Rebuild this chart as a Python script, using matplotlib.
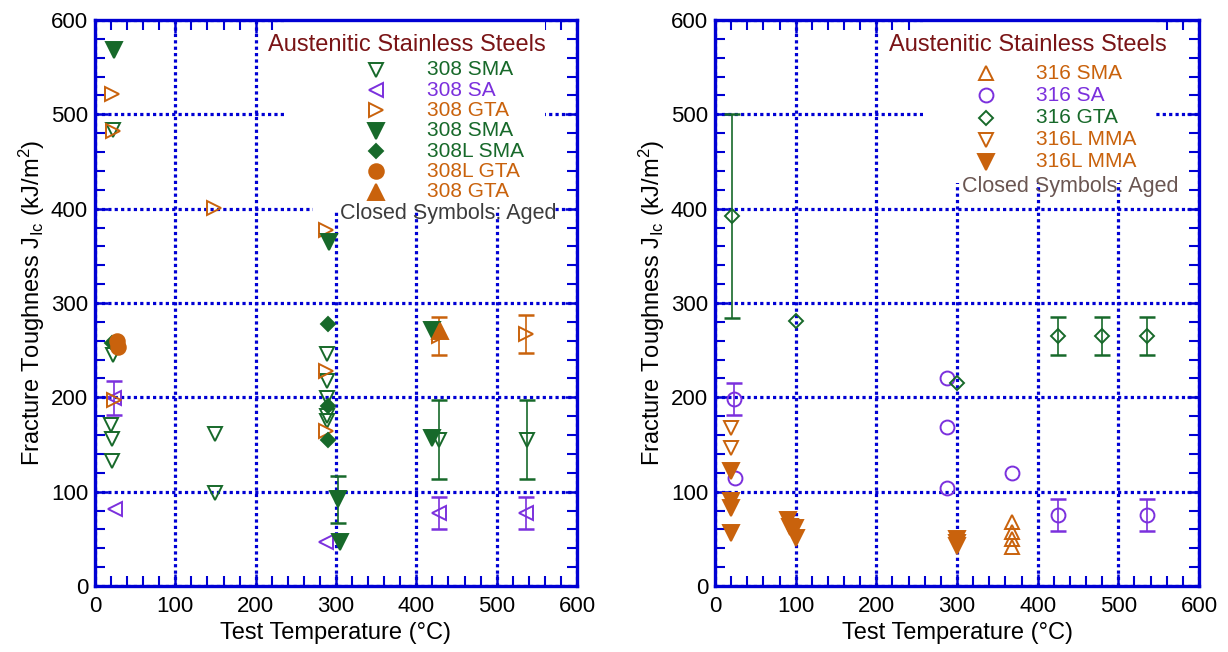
import numpy as np
import matplotlib
matplotlib.use('Agg')
import matplotlib.pyplot as plt
from matplotlib.ticker import MultipleLocator
from matplotlib.patches import Rectangle

plt.rcParams['font.family'] = ['Liberation Sans', 'DejaVu Sans']
plt.rcParams['mathtext.fontset'] = 'custom'
plt.rcParams['mathtext.rm'] = 'Liberation Sans'
plt.rcParams['mathtext.it'] = 'Liberation Sans:italic'

GREEN = '#17692a'
PURPLE = '#7b30dd'
ORANGE = '#c9620c'
BLUE = '#0000d4'

# ---- left panel: 308 welds ----
sma308_x = [22, 22, 20, 21, 21, 149, 149, 289, 289, 289, 289, 289, 428, 538]
sma308_y = [483, 245, 171, 156, 132, 161, 99, 246, 217, 199, 180, 175, 155, 155]
sma308_err = [0, 0, 0, 0, 0, 0, 0, 0, 0, 0, 0, 0, 42, 42]

sa308_x = [24, 25, 288, 428, 537]
sa308_y = [199, 82, 47, 77, 77]
sa308_err = [18, 0, 0, 17, 17]

gta308_x = [21, 23, 24, 148, 288, 288, 288, 428, 537]
gta308_y = [522, 482, 197, 401, 377, 228, 164, 265, 267]
gta308_err = [0, 0, 0, 0, 0, 0, 0, 20, 20]

sma308_aged_x = [24, 291, 303, 305, 419, 419]
sma308_aged_y = [568, 365, 92, 47, 157, 271]
sma308_aged_err = [0, 0, 25, 0, 0, 0]

sma308L_aged_x = [21, 290, 290, 290]
sma308L_aged_y = [258, 278, 191, 155]

gta308L_aged_x = [27, 29]
gta308L_aged_y = [260, 253]

gta308_aged_x = [430]
gta308_aged_y = [270]

# ---- right panel: 316 welds ----
sma316_x = [368, 368, 368, 368]
sma316_y = [68, 57, 50, 41]

sa316_x = [24, 25, 287, 287, 288, 368, 425, 536]
sa316_y = [198, 115, 220, 169, 104, 120, 75, 75]
sa316_err = [17, 0, 0, 0, 0, 0, 17, 17]

gta316_x = [21, 100, 300, 425, 480, 536]
gta316_y = [392, 281, 215, 265, 265, 265]
gta316_err = [108, 0, 0, 20, 20, 20]

mma316L_x = [20, 20]
mma316L_y = [167, 146]

mma316L_aged_x = [20, 20, 20, 20, 91, 93, 99, 100, 300, 300, 300]
mma316L_aged_y = [122, 90, 83, 56, 70, 63, 61, 51, 50, 46, 42]


def series(ax, x, y, marker, color, filled, ms, err=None):
    x, y = np.array(x), np.array(y)
    if err is not None:
        err = np.array(err)
        m = err > 0
        ax.errorbar(x[m], y[m], yerr=err[m], fmt='none', ecolor=color,
                    elinewidth=1.2, capsize=5.8, capthick=1.8, zorder=2)
    ax.plot(x, y, ls='none', marker=marker, ms=ms, mec=color,
            mfc=color if filled else 'none', mew=1.4, zorder=3)


def style(ax):
    ax.set_xlim(0, 600)
    ax.set_ylim(0, 600)
    ax.xaxis.set_major_locator(MultipleLocator(100))
    ax.yaxis.set_major_locator(MultipleLocator(100))
    ax.xaxis.set_minor_locator(MultipleLocator(20))
    ax.yaxis.set_minor_locator(MultipleLocator(20))
    ax.tick_params(which='both', direction='in', top=True, right=True,
                   color=BLUE, labelsize=16, pad=5)
    ax.tick_params(axis='x', which='major', pad=7)
    ax.tick_params(which='major', length=9, width=1.8)
    ax.tick_params(which='minor', length=7.5, width=1.5)
    for s in ax.spines.values():
        s.set_color(BLUE)
        s.set_linewidth(2.4)
    ax.set_axisbelow(True)
    ax.grid(which='major', color=BLUE, ls=(0, (1, 1)), lw=2.3)
    ax.set_xlabel('Test Temperature (°C)', fontsize=17, labelpad=4)
    ax.set_ylabel(r'Fracture Toughness J$_{\rm Ic}$ (kJ/m$^{\rm 2}$)', fontsize=17, labelpad=3)


def legend(ax, entries, mx, tx, y0, dy, box):
    ax.add_patch(Rectangle((box[0], box[1]), box[2], box[3], transform=ax.transAxes,
                           fc='white', ec='none', zorder=1))
    ax.text(0.647, 0.956, 'Austenitic Stainless Steels', transform=ax.transAxes,
            ha='center', va='center', fontsize=17, color='#7a1416', zorder=4)
    for i, (marker, color, filled, ms, label) in enumerate(entries):
        yy = y0 - i * dy
        ax.plot([mx], [yy], transform=ax.transAxes, ls='none', marker=marker, ms=ms,
                mec=color, mfc=color if filled else 'none', mew=1.4, clip_on=False, zorder=4)
        ax.text(tx, yy, label, transform=ax.transAxes, va='center', ha='left',
                fontsize=15, color=color, zorder=4)


fig = plt.figure(figsize=(12.28, 6.52), dpi=100)
ax1 = fig.add_axes([95 / 1228, 66 / 652, 482 / 1228, 566 / 652])
ax2 = fig.add_axes([715 / 1228, 66 / 652, 484 / 1228, 566 / 652])

# left
series(ax1, sma308_x, sma308_y, 'v', GREEN, False, 10, sma308_err)
series(ax1, sa308_x, sa308_y, '<', PURPLE, False, 10, sa308_err)
series(ax1, gta308_x, gta308_y, '>', ORANGE, False, 10, gta308_err)
series(ax1, sma308L_aged_x, sma308L_aged_y, 'D', GREEN, True, 7.5)
series(ax1, sma308_aged_x, sma308_aged_y, 'v', GREEN, True, 11, sma308_aged_err)
series(ax1, gta308L_aged_x, gta308L_aged_y, 'o', ORANGE, True, 10.5)
series(ax1, gta308_aged_x, gta308_aged_y, '^', ORANGE, True, 11)
style(ax1)
legend(ax1, [('v', GREEN, False, 10, '308 SMA'),
             ('<', PURPLE, False, 10, '308 SA'),
             ('>', ORANGE, False, 10, '308 GTA'),
             ('v', GREEN, True, 11, '308 SMA'),
             ('D', GREEN, True, 7.5, '308L SMA'),
             ('o', ORANGE, True, 10.5, '308L GTA'),
             ('^', ORANGE, True, 11, '308 GTA')],
       0.583, 0.689, 0.912, 0.0359, (0.394, 0.686, 0.54, 0.314))
ax1.add_patch(Rectangle((0.453, 0.660), 0.5, 0.035, transform=ax1.transAxes,
                        fc='white', ec='none', zorder=1))
ax1.text(0.508, 0.659, 'Closed Symbols: Aged', transform=ax1.transAxes,
         va='center', ha='left', fontsize=15.5, color='#3c3c3c', zorder=4)

# right
series(ax2, sma316_x, sma316_y, '^', ORANGE, False, 10)
series(ax2, sa316_x, sa316_y, 'o', PURPLE, False, 10, sa316_err)
series(ax2, gta316_x, gta316_y, 'D', GREEN, False, 7, gta316_err)
series(ax2, mma316L_x, mma316L_y, 'v', ORANGE, False, 10)
series(ax2, mma316L_aged_x, mma316L_aged_y, 'v', ORANGE, True, 11)
style(ax2)
legend(ax2, [('^', ORANGE, False, 10, '316 SMA'),
             ('o', PURPLE, False, 10, '316 SA'),
             ('D', GREEN, False, 7, '316 GTA'),
             ('v', ORANGE, False, 10, '316L MMA'),
             ('v', ORANGE, True, 11, '316L MMA')],
       0.560, 0.663, 0.906, 0.0392, (0.430, 0.712, 0.479, 0.288))
ax2.text(0.510, 0.705, 'Closed Symbols: Aged', transform=ax2.transAxes,
         va='center', ha='left', fontsize=15.5, color='#6a5652', zorder=4)

fig.savefig('out.png', dpi=100)
